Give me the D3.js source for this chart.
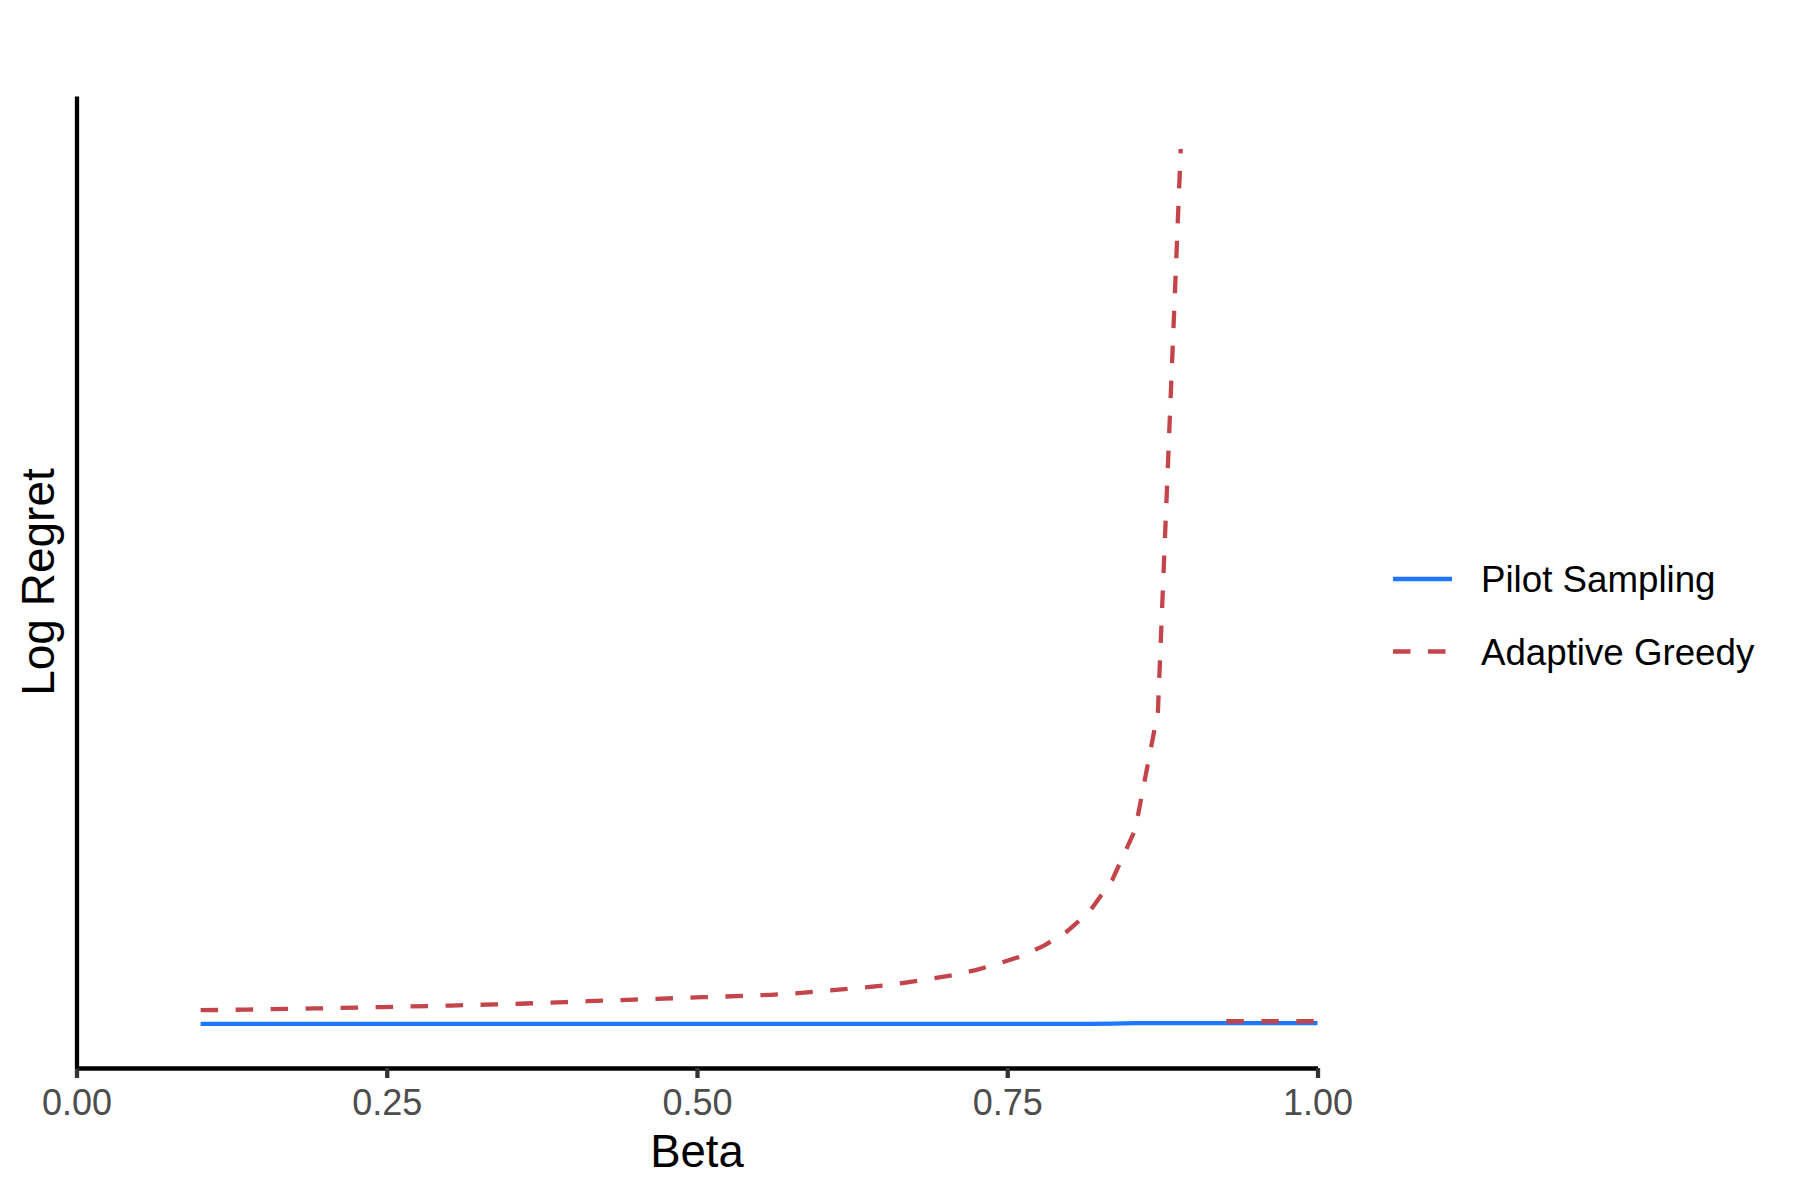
<!DOCTYPE html>
<html>
<head>
<meta charset="utf-8">
<script src="https://cdn.jsdelivr.net/npm/d3@7"></script>
<style>
  html, body { margin: 0; padding: 0; background: #ffffff; }
  svg { display: block; }
  text { font-family: "Liberation Sans", Arial, Helvetica, sans-serif; }
</style>
</head>
<body>
<svg id="chart" width="1800" height="1200"></svg>
<script>
// ---- data ----
const beta = [
  0.1000, 0.1184, 0.1367, 0.1551, 0.1735, 0.1918, 0.2102, 0.2286, 0.2469, 0.2653,
  0.2837, 0.3020, 0.3204, 0.3388, 0.3571, 0.3755, 0.3939, 0.4122, 0.4306, 0.4490,
  0.4673, 0.4857, 0.5041, 0.5224, 0.5408, 0.5592, 0.5776, 0.5959, 0.6143, 0.6327,
  0.6510, 0.6694, 0.6878, 0.7061, 0.7245, 0.7429, 0.7612, 0.7796, 0.7980, 0.8163,
  0.8347, 0.8531, 0.8714, 0.8898, 0.9082, 0.9265, 0.9449, 0.9633, 0.9816, 1.0000
];
const pilotSampling = [
  1.000, 1.000, 1.000, 1.000, 1.000, 1.000, 1.000, 1.000, 1.000, 1.000,
  1.000, 1.000, 1.000, 1.000, 1.000, 1.000, 1.000, 1.000, 1.000, 1.000,
  1.000, 1.000, 1.000, 1.000, 1.000, 1.000, 1.000, 1.000, 1.000, 1.000,
  1.000, 1.000, 1.000, 1.000, 1.000, 1.000, 1.000, 1.000, 1.000, 1.000,
  1.002, 1.008, 1.008, 1.008, 1.008, 1.008, 1.008, 1.008, 1.008, 1.008
];
const adaptiveGreedy = [
  1.154, 1.157, 1.161, 1.165, 1.170, 1.174, 1.179, 1.184, 1.190, 1.196,
  1.201, 1.207, 1.214, 1.220, 1.227, 1.237, 1.246, 1.256, 1.265, 1.274,
  1.283, 1.292, 1.301, 1.309, 1.318, 1.328, 1.343, 1.364, 1.386, 1.409,
  1.433, 1.469, 1.508, 1.549, 1.607, 1.682, 1.764, 1.885, 2.044, 2.270,
  2.631, 3.197, 4.531, 10.900, null, 1.029, 1.029, 1.029, 1.029, 1.029
];
const seriesNames = ["Pilot Sampling", "Adaptive Greedy"];
const xTicks = [0, 0.25, 0.5, 0.75, 1.0];
const xTickLabels = ["0.00", "0.25", "0.50", "0.75", "1.00"];
const xTitle = "Beta";
const yTitle = "Log Regret";

// ---- layout ----
const svg = d3.select("#chart");
const panel = { left: 76.5, right: 1317.5, top: 96, bottom: 1068 };
const colors = { pilot: "#1D77FF", greedy: "#C3444A" };
const lineW = 4.3;
const dash = "17.5,17.5";

const x = d3.scaleLinear().domain([0, 1]).range([panel.left, panel.right]);

const allY = pilotSampling.concat(adaptiveGreedy).filter(v => v !== null);
const yMin = d3.min(allY), yMax = 11.0;
const pad = (yMax - yMin) * 0.05;
const y = d3.scaleLinear().domain([yMin - pad, yMax + pad]).range([panel.bottom, panel.top]);

const pilotData = beta.map((b, i) => ({ x: b, y: pilotSampling[i] }));
const greedyData = beta.map((b, i) => ({ x: b, y: adaptiveGreedy[i] }));

const line = d3.line()
  .defined(d => d.y !== null)
  .x(d => x(d.x))
  .y(d => y(d.y));

// lines
svg.append("path")
  .datum(pilotData)
  .attr("d", line)
  .attr("fill", "none")
  .attr("stroke", colors.pilot)
  .attr("stroke-width", lineW)
  .attr("stroke-linecap", "butt")
  .attr("stroke-linejoin", "round");

svg.append("path")
  .datum(greedyData)
  .attr("d", line)
  .attr("fill", "none")
  .attr("stroke", colors.greedy)
  .attr("stroke-width", lineW)
  .attr("stroke-dasharray", dash)
  .attr("stroke-linecap", "butt")
  .attr("stroke-linejoin", "round");

// x axis
const xAxis = d3.axisBottom(x)
  .tickValues(xTicks)
  .tickFormat((d, i) => xTickLabels[i])
  .tickSizeInner(10)
  .tickSizeOuter(0);

const gx = svg.append("g")
  .attr("transform", `translate(0,${panel.bottom})`)
  .call(xAxis);
gx.select(".domain")
  .attr("stroke", "#000000")
  .attr("stroke-width", lineW);
gx.selectAll(".tick line")
  .attr("stroke", "#333333")
  .attr("stroke-width", lineW);
gx.selectAll(".tick text")
  .attr("y", 47)
  .attr("dy", 0)
  .attr("fill", "#4D4D4D")
  .style("font-size", "36px")
  .style("font-family", "'Liberation Sans', Arial, sans-serif");

// y axis line (no ticks)
const yAxis = d3.axisLeft(y).tickValues([]).tickSizeOuter(0);
const gy = svg.append("g")
  .attr("transform", `translate(${panel.left},0)`)
  .call(yAxis);
gy.select(".domain")
  .attr("stroke", "#000000")
  .attr("stroke-width", lineW);

// axis titles
svg.append("text")
  .attr("x", (panel.left + panel.right) / 2)
  .attr("y", 1167)
  .attr("text-anchor", "middle")
  .attr("fill", "#000000")
  .style("font-size", "45.5px")
  .text(xTitle);

svg.append("text")
  .attr("transform", `translate(54,${(panel.top + panel.bottom) / 2}) rotate(-90)`)
  .attr("text-anchor", "middle")
  .attr("fill", "#000000")
  .style("font-size", "46px")
  .text(yTitle);

// legend
const legend = svg.append("g");
const legendItems = [
  { name: seriesNames[0], color: colors.pilot, dash: null, cy: 579 },
  { name: seriesNames[1], color: colors.greedy, dash: dash, cy: 651.5 }
];
legendItems.forEach(it => {
  legend.append("line")
    .attr("x1", 1393).attr("x2", 1452)
    .attr("y1", it.cy).attr("y2", it.cy)
    .attr("stroke", it.color)
    .attr("stroke-width", lineW)
    .attr("stroke-linecap", "butt")
    .attr("stroke-dasharray", it.dash);
  legend.append("text")
    .attr("x", 1481)
    .attr("y", it.cy + 13)
    .attr("fill", "#000000")
    .style("font-size", "36.7px")
    .text(it.name);
});
</script>
</body>
</html>
